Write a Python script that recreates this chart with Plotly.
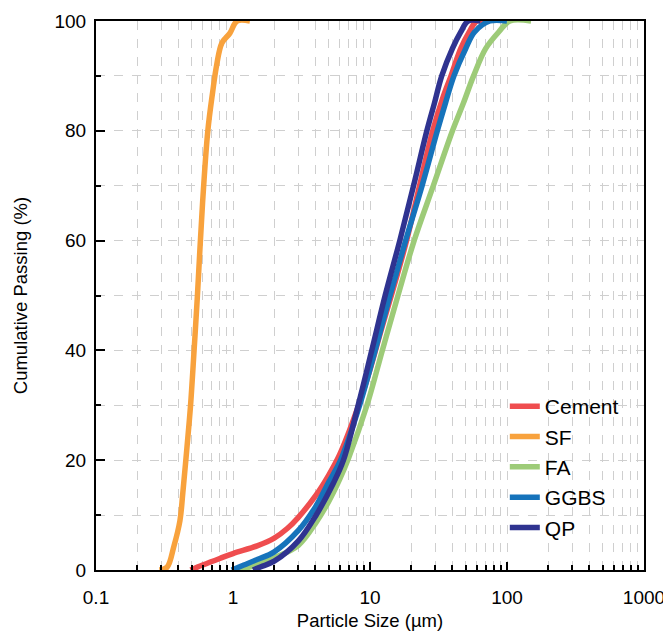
import plotly.graph_objects as go

# particle size (um) and cumulative passing (%)
cement_size = [0.49, 0.6, 0.8, 1.0, 1.5, 2.0, 2.5, 3.0, 4.0, 5.0, 6.0, 8.0, 10, 12, 14.5, 18.5, 23, 28.7, 34, 39, 46, 53, 60, 68]
cement_pass = [0, 0.9, 2.1, 3.0, 4.4, 5.8, 7.6, 9.6, 13.5, 17.3, 21, 29, 36.5, 43.5, 50.5, 60, 70, 80, 86, 90, 95, 98, 100, 100]

sf_size = [0.29, 0.33, 0.37, 0.41, 0.43, 0.46, 0.49, 0.52, 0.55, 0.60, 0.655, 0.71, 0.76, 0.83, 0.95, 1.07, 1.33]
sf_pass = [0, 0.5, 4.3, 9, 14, 22, 30, 40, 50, 67, 80, 87, 92, 96, 97.8, 100, 100]

fa_size = [1.08, 1.3, 1.6, 2.0, 3.0, 4.0, 5.0, 6.0, 7.0, 9.5, 12.3, 16.0, 21, 29, 40, 48, 57, 70, 87, 105, 150]
fa_pass = [0, 0.5, 1.2, 2.2, 4.5, 8.5, 12.5, 16.5, 20.5, 30, 40, 50, 60, 70, 80, 85, 90, 95, 98, 100, 100]

ggbs_size = [0.98, 1.2, 1.5, 2.0, 3.0, 4.0, 5.0, 6.1, 8.4, 10.9, 14, 18.2, 24, 31, 35.5, 41, 50, 58, 75, 100]
ggbs_pass = [0, 0.9, 1.9, 3.3, 7.2, 11.5, 16.0, 20, 30, 40, 50, 60, 70, 80, 85, 90, 95, 98, 100, 100]

qp_size = [1.40, 1.6, 2.0, 3.0, 4.0, 5.4, 6.4, 8.2, 10.3, 12.9, 16.5, 20.8, 26, 29.5, 33.4, 40, 46, 52, 64]
qp_pass = [0, 0.6, 1.6, 5.3, 9.8, 15.8, 20, 30, 40, 50, 60, 70, 80, 85, 90, 95, 98, 100, 100]

x_major = [0.1, 1, 10, 100, 1000]
x_labels = ["0.1", "1", "10", "100", "1000"]
x_minor = [m * d for d in [0.1, 1, 10, 100] for m in range(2, 10)]

series = [
    ("Cement", cement_size, cement_pass, "#ef4d4f"),
    ("SF", sf_size, sf_pass, "#f8a23d"),
    ("FA", fa_size, fa_pass, "#9dcb78"),
    ("GGBS", ggbs_size, ggbs_pass, "#1673bb"),
    ("QP", qp_size, qp_pass, "#2f3390"),
]

fig = go.Figure()
for name, xs, ys, col in series:
    fig.add_trace(go.Scatter(x=xs, y=ys, name=name, mode="lines",
                             line=dict(color=col, width=5.5, shape="spline", smoothing=1.0)))

grid = "#cfcfcf"
fig.update_xaxes(
    type="log", range=[-1, 3], automargin=False,
    tickmode="array", tickvals=x_major, ticktext=x_labels,
    ticks="inside", ticklen=8, tickwidth=2, tickcolor="black",
    ticklabelstandoff=9, ticklabeloverflow="allow",
    showline=True, linecolor="black", linewidth=2, mirror=True,
    showgrid=True, gridcolor=grid, griddash="dash", gridwidth=1,
    minor=dict(tickmode="array", tickvals=x_minor, ticks="inside", ticklen=5,
               tickwidth=1.5, tickcolor="black",
               showgrid=True, gridcolor=grid, griddash="dash", gridwidth=1),
    title=dict(text="Particle Size (µm)", standoff=18, font=dict(size=18.5)),
    tickfont=dict(size=19),
    zeroline=False,
)
fig.update_yaxes(
    range=[0, 100], dtick=20, automargin=False,
    ticks="inside", ticklen=9, tickwidth=2, tickcolor="black",
    ticklabelstandoff=4,
    showline=True, linecolor="black", linewidth=2, mirror=True,
    showgrid=True, gridcolor=grid, griddash="dash", gridwidth=1,
    minor=dict(dtick=10, ticks="inside", ticklen=5, tickwidth=1.5, tickcolor="black",
               showgrid=True, gridcolor=grid, griddash="dash", gridwidth=1),
    title=dict(text="Cumulative Passing (%)", standoff=22, font=dict(size=18.5)),
    tickfont=dict(size=19),
    zeroline=False,
)

# page body adds an 8px margin, so the figure is sized to fit the window
fig.update_layout(
    width=663, height=623,
    margin=dict(l=88, r=27, t=13, b=61),
    paper_bgcolor="white", plot_bgcolor="white",
    font=dict(family="Liberation Sans, Arial", size=18, color="black"),
    legend=dict(x=0.746, y=0.335, xanchor="left", yanchor="top",
                bgcolor="rgba(255,255,255,0)", font=dict(size=21),
                tracegroupgap=0),
    showlegend=True,
)

fig.write_html("out.html")
